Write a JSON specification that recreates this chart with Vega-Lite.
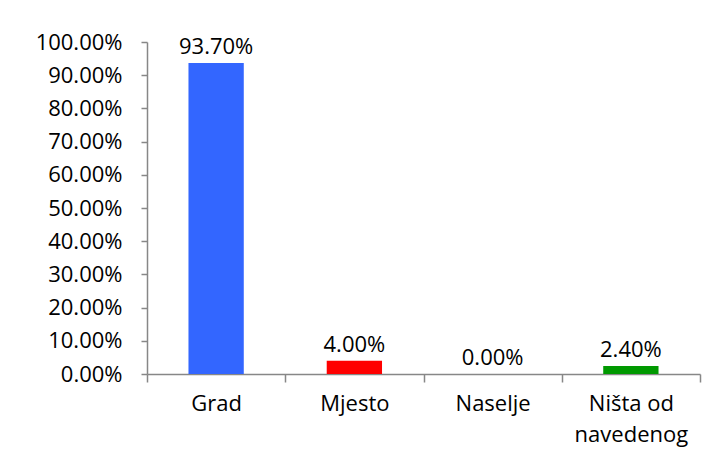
{
  "$schema": "https://vega.github.io/schema/vega-lite/v6.json",
  "autosize": "none",
  "width": 553,
  "height": 332,
  "padding": {"left": 147, "top": 42, "right": 19, "bottom": 92},
  "background": "white",
  "config": {
    "view": {"stroke": null},
    "font": "Open Sans"
  },
  "data": {
    "values": [
      {"category": "Grad", "share": 0.937},
      {"category": "Mjesto", "share": 0.04},
      {"category": "Naselje", "share": 0.0},
      {"category": "Ništa od navedenog", "share": 0.024}
    ]
  },
  "encoding": {
    "x": {
      "field": "category",
      "type": "nominal",
      "sort": null,
      "scale": {"paddingInner": 0, "paddingOuter": 0},
      "axis": {
        "title": null,
        "labelAngle": 0,
        "labelFont": "Open Sans",
        "labelFontSize": 22,
        "labelColor": "#000000",
        "labelPadding": 11,
        "labelLineHeight": 31,
        "labelBaseline": "top",
        "labelExpr": "datum.value == 'Ništa od navedenog' ? ['Ništa od', 'navedenog'] : datum.value",
        "tickBand": "extent",
        "tickSize": 8,
        "tickColor": "#878787",
        "tickWidth": 1.5,
        "domainColor": "#878787",
        "domainWidth": 1.5,
        "grid": false
      }
    },
    "y": {
      "field": "share",
      "type": "quantitative",
      "scale": {"domain": [0, 1], "nice": false},
      "axis": {
        "title": null,
        "format": ".2%",
        "values": [0, 0.1, 0.2, 0.3, 0.4, 0.5, 0.6, 0.7, 0.8, 0.9, 1.0],
        "labelFont": "Open Sans",
        "labelFontSize": 22,
        "labelColor": "#000000",
        "labelPadding": 19,
        "tickSize": 6,
        "tickColor": "#878787",
        "tickWidth": 1.5,
        "domainColor": "#878787",
        "domainWidth": 1.5,
        "grid": false
      }
    }
  },
  "layer": [
    {
      "mark": {"type": "bar", "width": {"band": 0.4}},
      "encoding": {
        "color": {
          "field": "category",
          "type": "nominal",
          "legend": null,
          "scale": {
            "domain": ["Grad", "Mjesto", "Naselje", "Ništa od navedenog"],
            "range": ["#3366FF", "#FF0000", "#FFC000", "#009900"]
          }
        }
      }
    },
    {
      "mark": {"type": "text", "baseline": "alphabetic", "dy": -9, "fontSize": 22, "font": "Open Sans", "color": "#000000"},
      "encoding": {
        "text": {"field": "share", "type": "quantitative", "format": ".2%"}
      }
    }
  ]
}
